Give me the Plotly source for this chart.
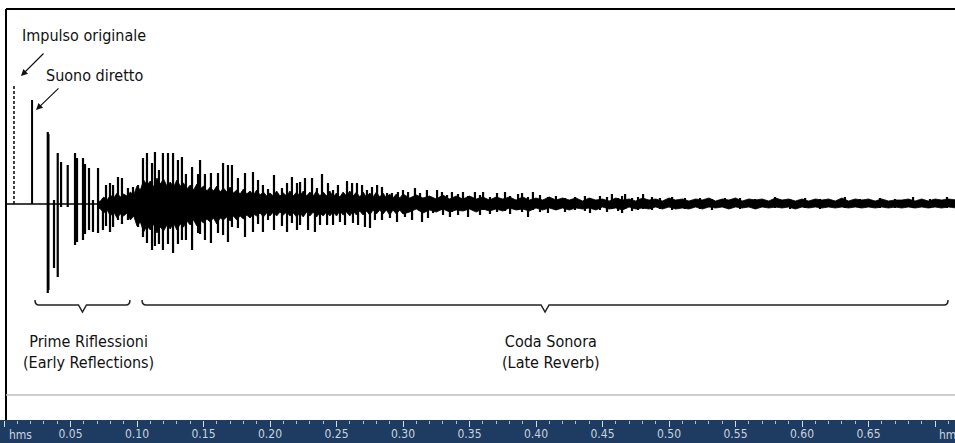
import plotly.graph_objects as go

# ---------------- data ----------------
# Original impulse and direct sound (time in ms, amplitude in relative units)
impulse_ms, impulse_amp = 7.5, 120
direct_ms, direct_amp = 21.1, 104

# Discrete reflections / spikes: time (ms), positive peak, negative peak
spike_ms = [32.9, 33.4, 37.6, 40.4, 42.9, 47.9, 53.4, 54.9, 59.4, 60.9, 63.9, 66.9, 70.7,
            74.4, 76.7, 79.7, 82.0, 85.7, 88.7, 93.2, 97.0, 100.8, 104.5, 107.5, 111.3,
            113.5, 116.5, 119.5, 123.3, 127.1, 130.8, 133.8, 136.8, 141.4, 145.9, 147.4,
            151.1, 155.6, 160.9, 164.7, 168.4, 171.4, 175.9, 181.2, 187.2, 191.0, 194.7,
            198.5, 203.0, 209.0, 212.8, 216.5, 220.3,
            222.6, 226.3, 228.6, 231.6, 233.8, 235.3, 237.6, 239.1, 242.9, 243.6, 247.4,
            251.1, 252.6, 256.4, 257.9, 261.7, 262.4, 265.4, 266.2, 269.2, 271.4, 272.9,
            275.2, 276.7, 278.9, 280.5, 284.2, 288.0, 290.2, 291.7, 295.5, 296.2, 300.0,
            301.5, 303.8, 306.8, 309.0, 312.8, 314.3, 318.0, 318.8, 322.6, 325.6, 329.3,
            330.1, 333.1, 335.3,
            336.8, 341.4, 345.1, 348.9, 354.1, 357.9, 360.2, 365.4, 370.7, 376.7, 380.5,
            386.5, 389.5, 394.0, 397.7, 403.0, 409.0, 415.0, 421.8, 429.3, 436.8, 440.6,
            448.1, 453.4, 457.1, 461.7, 464.7, 467.0, 472.2, 476.7, 480.5, 487.2, 493.2,
            502.3, 512.0, 523.3, 532.3, 542.1, 553.4, 564.7, 579.7, 591.0, 602.3, 613.5,
            632.3, 643.6, 658.6, 669.9, 683.5, 696.2, 709.0]
spike_top = [72, 70, 4, 51, 42, 39, 51, 46, 46, 40, 36, 4, 36,
             6, 19, 21, 19, 27, 26, 16, 17, 19, 46, 51, 41,
             52, 34, 51, 51, 51, 44, 47, 30, 37, 30, 44,
             30, 31, 31, 41, 39, 39, 26, 31, 32, 24, 19,
             15, 29, 16, 21, 27, 21,
             22, 26, 5, 26, 6, 16, 5, 30, 5, 21, 14,
             19, 5, 6, 23, 21, 5, 21, 5, 19, 5, 14,
             5, 17, 5, 19, 17, 11, 6, 11, 5, 12, 14,
             5, 12, 5, 16, 11, 5, 14, 5, 5, 14, 12,
             5, 9, 5,
             12, 10, 12, 8, 12, 9, 12, 7, 11, 12, 8,
             10, 11, 7, 12, 9, 7, 8, 6, 7, 8, 6,
             8, 7, 10, 6, 8, 10, 6, 7, 10, 7, 6,
             7, 6, 6, 5, 6, 6, 5, 7, 5, 6, 5,
             7, 5, 6, 5, 7, 5, 7]
spike_bot = [-89, -86, -64, -73, -3, -3, -41, -38, -36, -30, -26, -28, -29,
             -26, -22, -28, -23, -16, -20, -16, -12, -23, -33, -39, -46,
             -42, -40, -46, -40, -49, -40, -36, -36, -46, -29, -30,
             -36, -39, -29, -31, -38, -23, -24, -33, -28, -20, -28,
             -16, -26, -22, -28, -19, -26,
             -21, -8, -26, -6, -28, -5, -21, -6, -21, -5, -21,
             -6, -18, -21, -5, -6, -19, -6, -21, -5, -23, -6,
             -24, -5, -16, -6, -16, -6, -14, -5, -18, -5, -6,
             -13, -5, -16, -5, -5, -18, -5, -14, -9, -5, -6,
             -11, -5, -13,
             -8, -11, -6, -13, -7, -11, -6, -10, -8, -7, -10,
             -6, -8, -13, -6, -8, -9, -6, -8, -6, -7, -9,
             -6, -8, -5, -7, -9, -5, -7, -6, -5, -6, -5,
             -6, -5, -5, -6, -4, -5, -5, -4, -5, -4, -5,
             -4, -4, -4, -4, -4, -4, -4]

# Dense reverberant body: envelope (time ms, upper, lower)
env_ms = [70, 72.5, 75, 77.5, 80, 82.5, 85, 87.5, 90, 92.5, 95, 97.5, 100, 102.5, 105, 107.5,
          110, 112.5, 115, 117.5, 120, 122.5, 125, 127.5, 130, 132.5, 135, 137.5, 140, 142.5,
          145, 147.5, 150, 152.5, 155, 157.5, 160, 162.5, 165, 167.5, 170, 172.5, 175, 177.5,
          180, 182.5, 185, 187.5, 190, 192.5, 195, 197.5, 200, 202.5, 205, 207.5, 210, 212.5,
          215, 217.5, 220, 222.5, 225, 227.5, 230, 232.5, 235, 237.5, 240, 242.5, 245, 247.5,
          250, 252.5, 255, 257.5, 260, 262.5, 265, 267.5, 270, 272.5, 275, 277.5, 280, 282.5,
          285, 287.5, 290, 292.5, 295, 297.5, 300,
          305, 310, 315, 320, 325, 330, 335, 340, 345, 350, 355, 360, 365, 370, 375, 380,
          385, 390, 395, 400, 405, 410, 415, 420, 425, 430, 435, 440, 445, 450, 455, 460,
          465, 470, 475, 480, 485, 490, 495, 500, 505, 510, 515, 520, 525, 530, 535, 540,
          545, 550, 555, 560, 565, 570, 575, 580, 585, 590, 595, 600, 605, 610, 615, 620,
          625, 630, 635, 640, 645, 650, 655, 660, 665, 670, 675, 680, 685, 690, 695, 700,
          705, 710, 716]
env_top = [2, 3, 7, 4, 9, 6, 11, 7, 10, 8, 12, 9, 18, 14, 24, 19,
           23, 17, 26, 20, 25, 18, 22, 17, 24, 18, 21, 15, 19, 14,
           20, 15, 18, 13, 17, 13, 18, 12, 16, 12, 17, 11, 14, 10,
           15, 10, 13, 9, 14, 9, 12, 8, 11, 8, 13, 8, 11, 8,
           13, 8, 12, 8, 13, 8, 12, 8, 13, 8, 12, 8, 13, 7,
           11, 7, 12, 8, 13, 8, 12, 7, 12, 7, 11, 7, 12, 7,
           11, 6, 10, 6, 10, 6, 10,
           6, 9, 6, 8, 5, 9, 5, 8, 5, 8, 5, 7, 4, 7, 5, 7,
           4, 7, 4, 6, 4, 7, 4, 6, 4, 6, 3, 6, 4, 5, 3, 6,
           4, 5, 3, 6, 4, 5, 3, 6, 4, 5, 3, 5, 4, 6, 3, 5,
           4, 6, 3, 5, 4, 5, 3, 6, 4, 5, 3, 5, 3, 5, 4, 5,
           3, 6, 3, 5, 4, 5, 3, 5, 3, 4, 4, 5, 3, 5, 3, 5,
           4, 5, 4]
env_bot = [-3, -5, -9, -6, -12, -8, -14, -10, -12, -9, -16, -12, -22, -18, -28, -22,
           -26, -20, -29, -23, -27, -21, -25, -19, -26, -20, -23, -17, -21, -16,
           -22, -16, -19, -15, -18, -14, -20, -14, -16, -13, -17, -12, -16, -12,
           -15, -11, -14, -10, -12, -9, -13, -9, -12, -8, -12, -8, -11, -8,
           -12, -9, -13, -9, -13, -8, -12, -8, -13, -9, -12, -8, -12, -8,
           -12, -7, -11, -8, -12, -7, -11, -7, -11, -7, -11, -6, -10, -6,
           -10, -6, -11, -6, -10, -6, -10,
           -8, -5, -9, -6, -8, -5, -8, -6, -7, -5, -8, -5, -7, -5, -7, -4,
           -6, -5, -7, -4, -6, -4, -6, -4, -6, -4, -5, -4, -6, -3, -5, -4,
           -6, -3, -5, -4, -5, -3, -5, -3, -5, -4, -5, -3, -5, -3, -4, -3,
           -5, -3, -4, -3, -5, -3, -4, -3, -4, -3, -5, -3, -4, -3, -4, -3,
           -4, -3, -4, -3, -4, -3, -4, -3, -4, -3, -4, -3, -4, -3, -4, -3,
           -4, -3, -4]

# Ruler ticks (seconds) and labels
tick_vals = [0.0, 0.05, 0.10, 0.15, 0.20, 0.25, 0.30, 0.35, 0.40, 0.45, 0.50, 0.55, 0.60, 0.65, 0.70]
tick_labels = ["hms", "0.05", "0.10", "0.15", "0.20", "0.25", "0.30", "0.35", "0.40",
               "0.45", "0.50", "0.55", "0.60", "0.65", "hm"]

# Brace ranges (seconds) and labels
brace_ranges = [(0.0233, 0.0947), (0.1038, 0.7098)]
brace_labels = ["Prime Riflessioni<br>(Early Reflections)", "Coda Sonora<br>(Late Reverb)"]

# ---------------- figure ----------------
W, H, PB = 955, 443, 23
PH = H - PB
FONT = "DejaVu Sans Condensed, Liberation Sans Narrow, Arial Narrow, DejaVu Sans, sans-serif"


def px(x):
    return x / W


def py(y):
    return 1 - y / PH


fig = go.Figure()

# baseline
fig.add_trace(go.Scatter(x=[0.0015, 0.716], y=[0, 0], mode="lines",
                         line=dict(color="black", width=1.5), hoverinfo="skip", showlegend=False))

# dense body
xs = [t / 1000 for t in env_ms] + [t / 1000 for t in env_ms[::-1]]
ys = env_top + env_bot[::-1]
fig.add_trace(go.Scatter(x=xs, y=ys, mode="lines", fill="toself", fillcolor="black",
                         line=dict(color="black", width=0.8), hoverinfo="skip", showlegend=False))

# spikes
sx, sy = [], []
for t, a, b in zip(spike_ms, spike_top, spike_bot):
    sx += [t / 1000, t / 1000, None]
    sy += [b, a, None]
fig.add_trace(go.Scatter(x=sx, y=sy, mode="lines", line=dict(color="black", width=2.2),
                         connectgaps=False, hoverinfo="skip", showlegend=False))

# original impulse (dashed) and direct sound
fig.add_trace(go.Scatter(x=[impulse_ms / 1000] * 2, y=[0, impulse_amp], mode="lines",
                         line=dict(color="black", width=1.5, dash="3px,2px"),
                         hoverinfo="skip", showlegend=False))
fig.add_trace(go.Scatter(x=[direct_ms / 1000] * 2, y=[0, direct_amp], mode="lines",
                         line=dict(color="black", width=2), hoverinfo="skip", showlegend=False))

shapes = []
# frame lines
shapes.append(dict(type="line", xref="paper", yref="paper", x0=px(6), x1=px(6), y0=py(9), y1=0,
                   line=dict(color="black", width=2)))
shapes.append(dict(type="line", xref="paper", yref="paper", x0=px(6), x1=1, y0=py(9), y1=py(9),
                   line=dict(color="black", width=2)))
# grey separator
shapes.append(dict(type="line", xref="paper", yref="paper", x0=px(6), x1=1, y0=py(395), y1=py(395),
                   line=dict(color="#bdbdbd", width=1.5)))
# ruler band
shapes.append(dict(type="rect", xref="paper", yref="paper", x0=0, x1=1, y0=-PB / PH, y1=0,
                   fillcolor="#1e3b62", line=dict(width=0), layer="below"))

# braces
d = 0.003
for (a, b) in brace_ranges:
    m = (a + b) / 2
    path = (f"M {a},-96 Q {a},-101 {a + d},-101 L {m - d},-101 L {m},-108 "
            f"L {m + d},-101 L {b - d},-101 Q {b},-101 {b},-96")
    shapes.append(dict(type="path", xref="x", yref="y", path=path,
                       line=dict(color="#222222", width=1.5)))

TXT = dict(family=FONT, size=16, color="#111111")
annotations = []
for (a, b), lab in zip(brace_ranges, brace_labels):
    annotations.append(dict(x=(a + b) / 2, y=-148, xref="x", yref="y", text=lab, showarrow=False,
                            xshift=6, align="center", font=TXT))

annotations.append(dict(x=px(20), y=py(35), xref="paper", yref="paper", text="Impulso originale",
                        showarrow=False, xanchor="left", yanchor="middle", font=TXT))
annotations.append(dict(x=px(44), y=py(75), xref="paper", yref="paper", text="Suono diretto",
                        showarrow=False, xanchor="left", yanchor="middle", font=TXT))
# arrows
annotations.append(dict(x=px(21), y=py(76), xref="paper", yref="paper", text="", showarrow=True,
                        ax=24, ay=-24, arrowhead=2, arrowsize=1.1, arrowwidth=1.2, arrowcolor="#111111"))
annotations.append(dict(x=px(36), y=py(110), xref="paper", yref="paper", text="", showarrow=True,
                        ax=24, ay=-23, arrowhead=2, arrowsize=1.1, arrowwidth=1.2, arrowcolor="#111111"))
# ruler end labels
RULER = dict(family=FONT, size=12, color="#c9d3df")
annotations.append(dict(x=tick_vals[0], y=0, xref="x", yref="paper", text=tick_labels[0],
                        showarrow=False, xanchor="left", yanchor="top", xshift=3, yshift=-6,
                        font=RULER))
annotations.append(dict(x=tick_vals[-1], y=0, xref="x", yref="paper", text=tick_labels[-1],
                        showarrow=False, xanchor="left", yanchor="top", xshift=2, yshift=-6,
                        font=RULER))

x0 = -4 / 1330
x1 = (W - 4) / 1330

fig.update_layout(
    width=W, height=H, autosize=False,
    margin=dict(l=0, r=0, t=0, b=PB),
    paper_bgcolor="white", plot_bgcolor="white",
    shapes=shapes, annotations=annotations,
    xaxis=dict(range=[x0, x1], showgrid=False, zeroline=False, showline=False,
               tickmode="array", tickvals=tick_vals,
               ticktext=[""] + tick_labels[1:-1] + [""],
               ticks="outside", ticklen=6, tickwidth=1, tickcolor="#d5dde8",
               tickfont=RULER,
               ticklabelstandoff=-3,
               minor=dict(dtick=0.01, tick0=0, ticks="outside", ticklen=3, tickcolor="#b9c4d3",
                          showgrid=False),
               fixedrange=True),
    yaxis=dict(range=[-(PH - 204), 204], visible=False, fixedrange=True),
    showlegend=False,
)

fig.write_html("out.html")
